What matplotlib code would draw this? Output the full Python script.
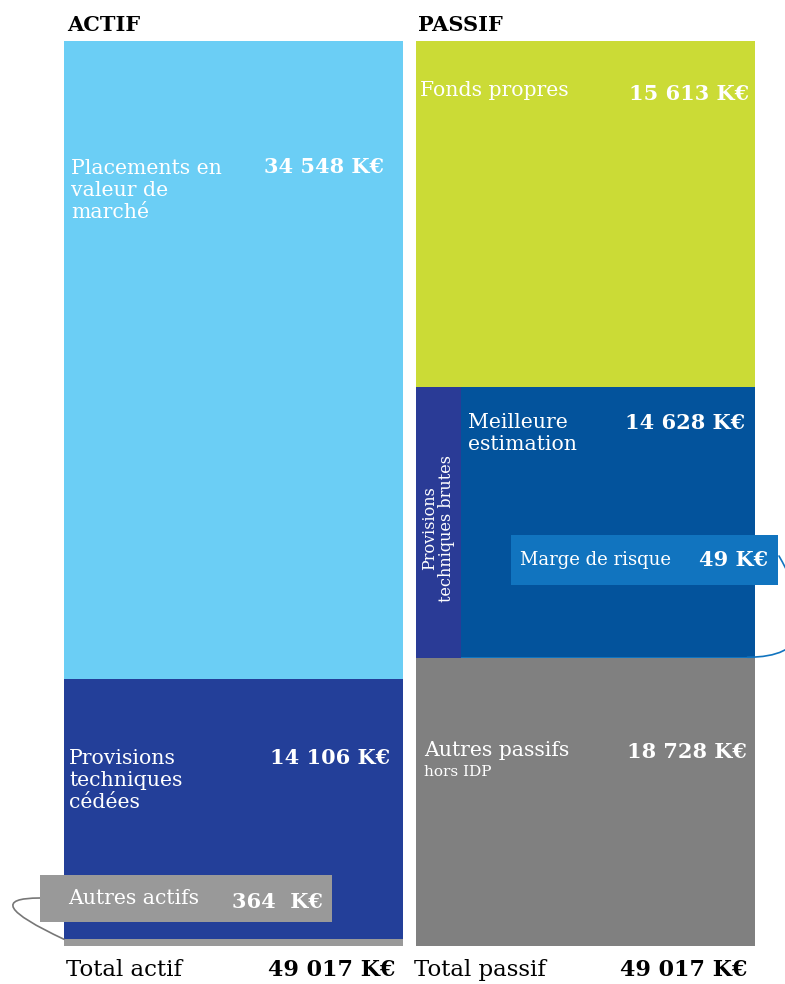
import matplotlib
matplotlib.use("Agg")
import matplotlib.pyplot as plt

# Actif (bottom -> top), K€
actif_labels = ["Autres actifs", "Provisions\ntechniques\ncédées", "Placements en\nvaleur de\nmarché"]
actif_values = [364, 14106, 34548]
actif_colors = ["#999999", "#233f99", "#6bcef5"]

# Passif (bottom -> top), K€ - segment heights as drawn in the reference
passif_labels = ["Autres passifs", "Marge de risque", "Meilleure\nestimation", "Fonds propres"]
passif_values = [15613, 49, 14628, 18728]
passif_texts = ["18 728 K€", "49 K€", "14 628 K€", "15 613 K€"]
passif_colors = ["#808080", "#1174bf", "#03539c", "#cbdb36"]

total_actif = "49 017 K€"
total_passif = "49 017 K€"

W, H = 785, 984
fig = plt.figure(figsize=(W / 100, H / 100), dpi=100)
ax = fig.add_axes([0, 0, 1, 1])
ax.axis("off")

step = 351.5      # px between bar centres
x0 = 233.5        # px of left bar centre
kpx = 905 / 49017  # px per K€
ax.set_xlim(-x0 / step, (W - x0) / step)
ax.set_ylim(-(H - 946) / kpx, 946 / kpx)
bw = 339 / step


def fx(px):
    return px / W


def fy(py):
    return 1 - py / H


# stacked bars
bottom = 0
for v, c in zip(actif_values, actif_colors):
    ax.bar(0, v, bottom=bottom, width=bw, color=c, linewidth=0)
    bottom += v
bottom = 0
for v, c in zip(passif_values, passif_colors):
    ax.bar(1, v, bottom=bottom, width=bw, color=c, linewidth=0)
    bottom += v

# band "Provisions techniques brutes"
ax.bar(1 - bw / 2, passif_values[1] + passif_values[2], bottom=passif_values[0],
       width=45 / step, align="edge", color="#2a3b96", linewidth=0)

serif = "DejaVu Serif"
lab = dict(color="white", family=serif, fontsize=14.7, va="center", linespacing=1.2)
val = dict(color="white", family=serif, fontsize=15, fontweight="bold", va="center", ha="right")

# headers
fig.text(fx(67), fy(25), "ACTIF", family=serif, fontsize=15, fontweight="heavy", va="center")
fig.text(fx(418), fy(25), "PASSIF", family=serif, fontsize=15, fontweight="heavy", va="center")

# actif labels
fig.text(fx(71), fy(190), actif_labels[2], **lab)
fig.text(fx(384), fy(167), "34 548 K€", **val)
fig.text(fx(69), fy(781), actif_labels[1], **lab)
fig.text(fx(390), fy(758), "14 106 K€", **val)

# passif labels
fig.text(fx(420), fy(91), passif_labels[3], **lab)
fig.text(fx(749), fy(94), passif_texts[3], **val)
fig.text(fx(468), fy(433), passif_labels[2], **lab)
fig.text(fx(745), fy(423), passif_texts[2], **val)
fig.text(fx(424), fy(750), passif_labels[0], **lab)
fig.text(fx(424), fy(772), "hors IDP", color="white", family=serif, fontsize=11, va="center")
fig.text(fx(747), fy(752), passif_texts[0], **val)
fig.text(fx(438), fy(528), "Provisions\ntechniques brutes", color="white", family=serif,
         fontsize=11.5, rotation=90, ha="center", va="center", linespacing=1.0)

# callout: autres actifs
fig.patches.append(plt.Rectangle((fx(40), fy(922)), (332 - 40) / W, (922 - 875) / H,
                                 transform=fig.transFigure, color="#999999", lw=0))
fig.text(fx(68), fy(899), actif_labels[0], **lab)
fig.text(fx(323), fy(902), "364  K€", **val)
ax.annotate("", xy=(-bw / 2, actif_values[0]), xycoords="data",
            xytext=(fx(40), fy(898)), textcoords="figure fraction",
            arrowprops=dict(arrowstyle="-", color="#777777", lw=1.2,
                            connectionstyle="angle3,angleA=180,angleB=155",
                            shrinkA=0, shrinkB=0))

# callout: marge de risque
fig.patches.append(plt.Rectangle((fx(511), fy(585)), (778 - 511) / W, (585 - 535) / H,
                                 transform=fig.transFigure, color="#1174bf", lw=0))
fig.text(fx(520), fy(560), passif_labels[1], color="white", family=serif, fontsize=13,
         va="center")
fig.text(fx(768), fy(560), passif_texts[1], **val)
ax.annotate("", xy=(1 + bw / 2 - 0.02, passif_values[0] + passif_values[1] / 2), xycoords="data",
            xytext=(fx(779), fy(556)), textcoords="figure fraction",
            arrowprops=dict(arrowstyle="-", color="#1174bf", lw=1.2,
                            connectionstyle="angle3,angleA=-60,angleB=0",
                            shrinkA=0, shrinkB=0))

# totals
fig.text(fx(66), fy(970), "Total actif", family=serif, fontsize=16.5, va="center")
fig.text(fx(395), fy(970), total_actif, family=serif, fontsize=16, fontweight="heavy",
         va="center", ha="right")
fig.text(fx(414), fy(970), "Total passif", family=serif, fontsize=16.5, va="center")
fig.text(fx(747), fy(970), total_passif, family=serif, fontsize=16, fontweight="heavy",
         va="center", ha="right")

plt.savefig("out.png", dpi=100)
plt.close()
